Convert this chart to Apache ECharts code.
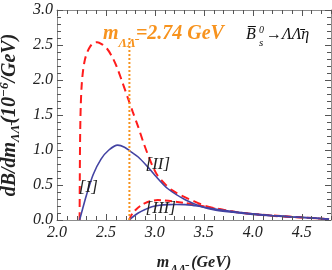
<!DOCTYPE html>
<html><head><meta charset="utf-8">
<script src="https://cdn.jsdelivr.net/npm/echarts@6/dist/echarts.min.js"></script>
<style>html,body{margin:0;padding:0;background:#fff}#c{width:332px;height:270px}</style>
</head><body><div id="c"></div>
<script>
// Red dashed (total, from threshold 2m_Λ)
const redA_m = [2.231,2.233,2.236,2.242,2.252,2.266,2.285,2.31,2.34,2.375,2.41,2.46,2.51,2.56,2.61,2.665,2.72,2.775,2.83,2.88,2.93,2.98,3.03,3.1,3.17,3.27,3.38,3.5,3.61,3.8,4.0,4.2,4.4,4.6,4.78];
const redA_v = [0,0.6,1.15,1.6,1.92,2.13,2.29,2.4,2.48,2.53,2.54,2.51,2.45,2.34,2.19,1.98,1.76,1.54,1.33,1.12,0.93,0.76,0.63,0.52,0.43,0.35,0.28,0.21,0.17,0.12,0.085,0.06,0.043,0.028,0.012];
// Blue solid [I]+[II]
const blueB_m = [2.231,2.26,2.3,2.37,2.45,2.53,2.62,2.69,2.76,2.83,2.92,3.0,3.13,3.31,3.48,3.61,3.8,4.0,4.2,4.4,4.6,4.78];
const blueB_v = [0,0.15,0.35,0.65,0.87,1.0,1.07,1.04,0.97,0.9,0.77,0.64,0.45,0.29,0.19,0.145,0.11,0.08,0.06,0.043,0.028,0.01];
// Red dashed [III]
const redC_m = [2.74,2.76,2.8,2.85,2.9,2.96,3.03,3.1,3.2,3.32,3.44,3.55,3.7,3.9,4.1,4.3,4.5,4.78];
const redC_v = [0,0.07,0.14,0.2,0.24,0.27,0.285,0.28,0.265,0.24,0.21,0.18,0.14,0.1,0.075,0.055,0.038,0.012];
// Blue solid [III]
const blueD_m = [2.74,2.78,2.83,2.9,2.97,3.05,3.13,3.22,3.31,3.4,3.48,3.6,3.8,4.0,4.2,4.4,4.6,4.78];
const blueD_v = [0,0.05,0.1,0.15,0.19,0.21,0.22,0.222,0.22,0.205,0.19,0.16,0.12,0.088,0.065,0.047,0.03,0.013];
// Orange threshold line
const cutMass = 2.74;
const cutLineTop = 2.6;
const xTicks = ['2.0','2.5','3.0','3.5','4.0','4.5'];
const yTicks = ['0.0','0.5','1.0','1.5','2.0','2.5','3.0'];
// Frame tick values (major every 0.5, minor every 0.1)
const xTickVals = [2.0,2.1,2.2,2.3,2.4,2.5,2.6,2.7,2.8,2.9,3.0,3.1,3.2,3.3,3.4,3.5,3.6,3.7,3.8,3.9,4.0,4.1,4.2,4.3,4.4,4.5,4.6,4.7,4.8];
const yTickVals = [0,0.1,0.2,0.3,0.4,0.5,0.6,0.7,0.8,0.9,1.0,1.1,1.2,1.3,1.4,1.5,1.6,1.7,1.8,1.9,2.0,2.1,2.2,2.3,2.4,2.5,2.6,2.7,2.8,2.9,3.0];

const pairs = (a,b)=>a.map((x,i)=>[x,b[i]]);
const serif = 'Liberation Serif';
const frame = '#8c8c8c';
const tickColor = '#555555';
const blue = '#4343a3';
const red = '#ff1c1c';
const orange = '#f7931e';
const LB = '\u039B\u0304';
const X_MIN = 2.0, X_MAX = 4.8, Y_MIN = 0, Y_MAX = 3.0;

function axisCommon(showLabel){
  return {
    type:'value', interval:0.5,
    axisLine:{show:true,onZero:false,lineStyle:{color:frame,width:1}},
    axisTick:{show:false},
    minorTick:{show:false},
    splitLine:{show:false},
    axisLabel:{show:showLabel,fontFamily:serif,fontStyle:'italic',fontSize:16,color:'#222'}
  };
}
const xa = Object.assign(axisCommon(true),{min:X_MIN,max:X_MAX,position:'bottom'});
xa.axisLabel.margin = 5;
xa.axisLabel.formatter = v => xTicks.indexOf(v.toFixed(1))>=0 ? v.toFixed(1) : '';
xa.name = '{t|m}{s|Λ'+LB+'}{t| (GeV)}';
xa.nameLocation='middle'; xa.nameGap=31;
xa.nameTextStyle = {rich:{
  t:{fontFamily:serif,fontStyle:'italic',fontWeight:'bold',fontSize:16,color:'#222',lineHeight:20,verticalAlign:'bottom'},
  s:{fontFamily:serif,fontStyle:'italic',fontWeight:'bold',fontSize:12,color:'#222',lineHeight:14,verticalAlign:'bottom',padding:[0,1,-5,1]}
}};
const xa2 = Object.assign(axisCommon(false),{min:X_MIN,max:X_MAX,position:'top'});
const ya = Object.assign(axisCommon(true),{min:Y_MIN,max:Y_MAX,position:'left'});
ya.axisLabel.margin = 4;
ya.axisLabel.formatter = v => yTicks.indexOf(v.toFixed(1))>=0 ? v.toFixed(1) : '';
ya.name = '{t|dB/dm}{s|Λ'+LB+'}{t|(10}{p|−6}{t|/GeV)}';
ya.nameLocation='middle'; ya.nameGap=35; ya.nameRotate=90;
ya.nameTextStyle = {rich:{
  t:{fontFamily:serif,fontStyle:'italic',fontWeight:'bold',fontSize:20,color:'#222',lineHeight:24},
  s:{fontFamily:serif,fontStyle:'italic',fontWeight:'bold',fontSize:13,color:'#222',lineHeight:24,verticalAlign:'bottom',padding:[10,1,0,0]},
  p:{fontFamily:serif,fontStyle:'italic',fontWeight:'bold',fontSize:13,color:'#222',lineHeight:24,verticalAlign:'top',padding:[0,0,8,0]}
}};
const ya2 = Object.assign(axisCommon(false),{min:Y_MIN,max:Y_MAX,position:'right'});

const lbl = (txt)=>({show:true,position:'inside',formatter:txt,fontFamily:serif,fontStyle:'italic',fontSize:17,color:'#222'});

const isMajor = v => Math.abs(v*2 - Math.round(v*2)) < 1e-6;
const tickLine = (x1,y1,x2,y2)=>({type:'line',shape:{x1,y1,x2,y2},style:{stroke:tickColor,lineWidth:1,fill:null}});

function renderXTick(params, api){
  const v = api.value(0);
  const len = isMajor(v) ? 6 : 4;
  const pb = api.coord([v, Y_MIN]);
  const pt = api.coord([v, Y_MAX]);
  const x = Math.round(pb[0]) + 0.5;
  return {type:'group',children:[tickLine(x,pb[1],x,pb[1]-len), tickLine(x,pt[1],x,pt[1]+len)]};
}
function renderYTick(params, api){
  const v = api.value(1);
  const len = isMajor(v) ? 6 : 4;
  const pl = api.coord([X_MIN, v]);
  const pr = api.coord([X_MAX, v]);
  const y = Math.round(pl[1]) + 0.5;
  return {type:'group',children:[tickLine(pl[0],y,pl[0]+len,y), tickLine(pr[0],y,pr[0]-len,y)]};
}

const chart = echarts.init(document.getElementById('c'),null,{renderer:'canvas'});
chart.setOption({
  animation:false,
  grid:{left:57,right:1,top:10,bottom:50,containLabel:false,outerBoundsMode:'none'},
  xAxis:[xa,xa2],
  yAxis:[ya,ya2],
  series:[
    {type:'custom',renderItem:renderXTick,data:xTickVals.map(v=>[v,Y_MIN]),silent:true,clip:false,z:10},
    {type:'custom',renderItem:renderYTick,data:yTickVals.map(v=>[X_MIN,v]),silent:true,clip:false,z:10},
    {type:'line',data:pairs(redC_m,redC_v),showSymbol:false,smooth:0.3,lineStyle:{color:red,width:2,type:[7,4]},z:3,
     markPoint:{symbol:'circle',symbolSize:0,data:[{coord:[3.06,0.16],label:lbl('[III]')}]}},
    {type:'line',data:pairs(blueD_m,blueD_v),showSymbol:false,smooth:0.3,lineStyle:{color:blue,width:1.6},z:4},
    {type:'line',data:pairs(redA_m,redA_v),showSymbol:false,smooth:0.3,lineStyle:{color:red,width:2,type:[8,5]},z:3},
    {type:'line',data:pairs(blueB_m,blueB_v),showSymbol:false,smooth:0.3,lineStyle:{color:blue,width:1.6},z:4,
     markPoint:{symbol:'circle',symbolSize:0,data:[
       {coord:[2.32,0.46],label:lbl('[I]')},
       {coord:[3.03,0.79],label:lbl('[II]')}]}},
    {type:'line',data:[[cutMass,0],[cutMass,cutLineTop]],showSymbol:false,lineStyle:{color:orange,width:2,type:[2,2]},z:5}
  ],
  graphic:[
    {type:'text',left:103,top:24,style:{text:'{m|m}{s|Λ'+LB+'}{m|=2.74 GeV}',rich:{
      m:{fontFamily:serif,fontStyle:'italic',fontWeight:'bold',fontSize:20,fill:orange,lineHeight:22,verticalAlign:'bottom'},
      s:{fontFamily:serif,fontStyle:'italic',fontWeight:'bold',fontSize:13,fill:orange,lineHeight:22,verticalAlign:'bottom',padding:[0,0,-6,0]}}}},
    {type:'text',left:246,top:27,style:{text:'B\u0305',font:'italic 16px "Liberation Serif"',fill:'#111'}},
    {type:'text',left:259,top:25,style:{text:'0',font:'italic 10px "Liberation Serif"',fill:'#111'}},
    {type:'text',left:259,top:38,style:{text:'s',font:'italic 11px "Liberation Serif"',fill:'#111'}},
    {type:'text',left:266,top:27,style:{text:'→Λ'+LB+'η',font:'italic 16px "Liberation Serif"',fill:'#111'}}
  ]
});
</script></body></html>
